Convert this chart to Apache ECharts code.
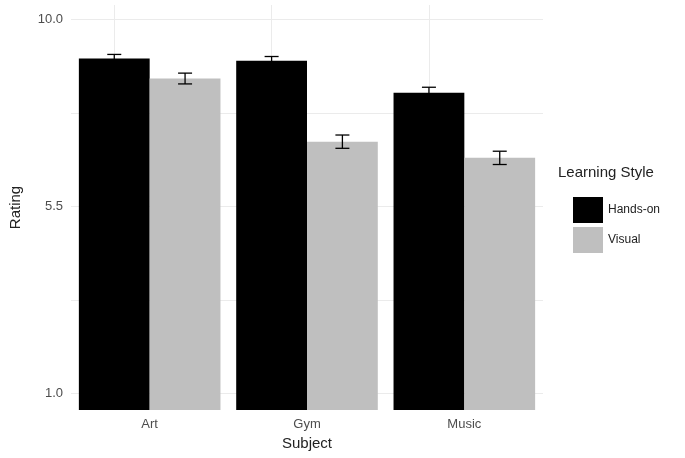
<!DOCTYPE html>
<html><head><meta charset="utf-8">
<script src="https://cdn.jsdelivr.net/npm/echarts@6/dist/echarts.min.js"></script>
<style>html,body{margin:0;padding:0;background:#fff}#c{width:685px;height:458px}</style>
</head><body><div id="c"></div>
<script>
const categories = ['Art', 'Gym', 'Music'];
const handsOn = [9.06, 9.01, 8.24];
const handsOnErr = [0.1, 0.1, 0.13];
const visual = [8.58, 7.06, 6.67];
const visualErr = [0.13, 0.16, 0.16];
const yTicks = [1, 5.5, 10];
const yGrid = [1, 3.25, 5.5, 7.75, 10];

const chart = echarts.init(document.getElementById('c'));
const font = 'Liberation Sans, Arial, sans-serif';
function errSeries(vals, errs, side) {
  return {
    type: 'custom', z: 10,
    data: vals.map((v, i) => [i, v - errs[i], v + errs[i]]),
    renderItem: function (params, api) {
      const i = api.value(0);
      const bw = api.size([1, 0])[0] * 0.9 / 2;
      const lo = api.coord([i, api.value(1)]);
      const hi = api.coord([i, api.value(2)]);
      const x = lo[0] + side * bw / 2;
      const w = 7;
      const st = { stroke: '#000', lineWidth: 1.3 };
      return { type: 'group', children: [
        { type: 'line', shape: { x1: x, y1: lo[1], x2: x, y2: hi[1] }, style: st },
        { type: 'line', shape: { x1: x - w, y1: lo[1], x2: x + w, y2: lo[1] }, style: st },
        { type: 'line', shape: { x1: x - w, y1: hi[1], x2: x + w, y2: hi[1] }, style: st }
      ]};
    }
  };
}
chart.setOption({
  animation: false,
  grid: { left: 67, right: 142, top: 5, bottom: 48 },
  legend: {
    left: 568, top: 192, orient: 'vertical', itemWidth: 30, itemHeight: 26, itemGap: 4,
    icon: 'rect', textStyle: { fontFamily: font, fontSize: 12, color: '#222' },
    data: ['Hands-on', 'Visual']
  },
  graphic: [{ type: 'text', left: 558, top: 165, style: { text: 'Learning Style', font: '15px ' + font, fill: '#222' } }],
  xAxis: {
    type: 'category', data: categories,
    name: 'Subject', nameLocation: 'middle', nameGap: 25,
    nameTextStyle: { fontFamily: font, fontSize: 15, color: '#222' },
    axisLine: { show: false }, axisTick: { show: false },
    axisLabel: { fontFamily: font, fontSize: 13, color: '#4d4d4d', margin: 8 },
    splitLine: { show: false }
  },
  yAxis: {
    type: 'value', min: 0.6, max: 10.35,
    name: 'Rating', nameLocation: 'middle', nameGap: 48,
    nameTextStyle: { fontFamily: font, fontSize: 15, color: '#222' },
    axisLine: { show: false }, axisTick: { show: false },
    axisLabel: { customValues: yTicks, formatter: v => v.toFixed(1), fontFamily: font, fontSize: 13, color: '#4d4d4d' },
    splitLine: { show: false }
  },
  series: [
    { name: 'Hands-on', type: 'bar', data: handsOn, barGap: '0%', barCategoryGap: '10%',
      itemStyle: { color: '#000' },
      markLine: { silent: true, symbol: 'none', label: { show: false }, z: 0,
        lineStyle: { color: '#ebebeb', type: 'solid', width: 1 },
        data: yGrid.map(v => ({ yAxis: v })).concat(categories.map(c => ({ xAxis: c }))) } },
    { name: 'Visual', type: 'bar', data: visual, itemStyle: { color: '#bfbfbf' } },
    errSeries(handsOn, handsOnErr, -1),
    errSeries(visual, visualErr, 1)
  ]
});
</script></body></html>
